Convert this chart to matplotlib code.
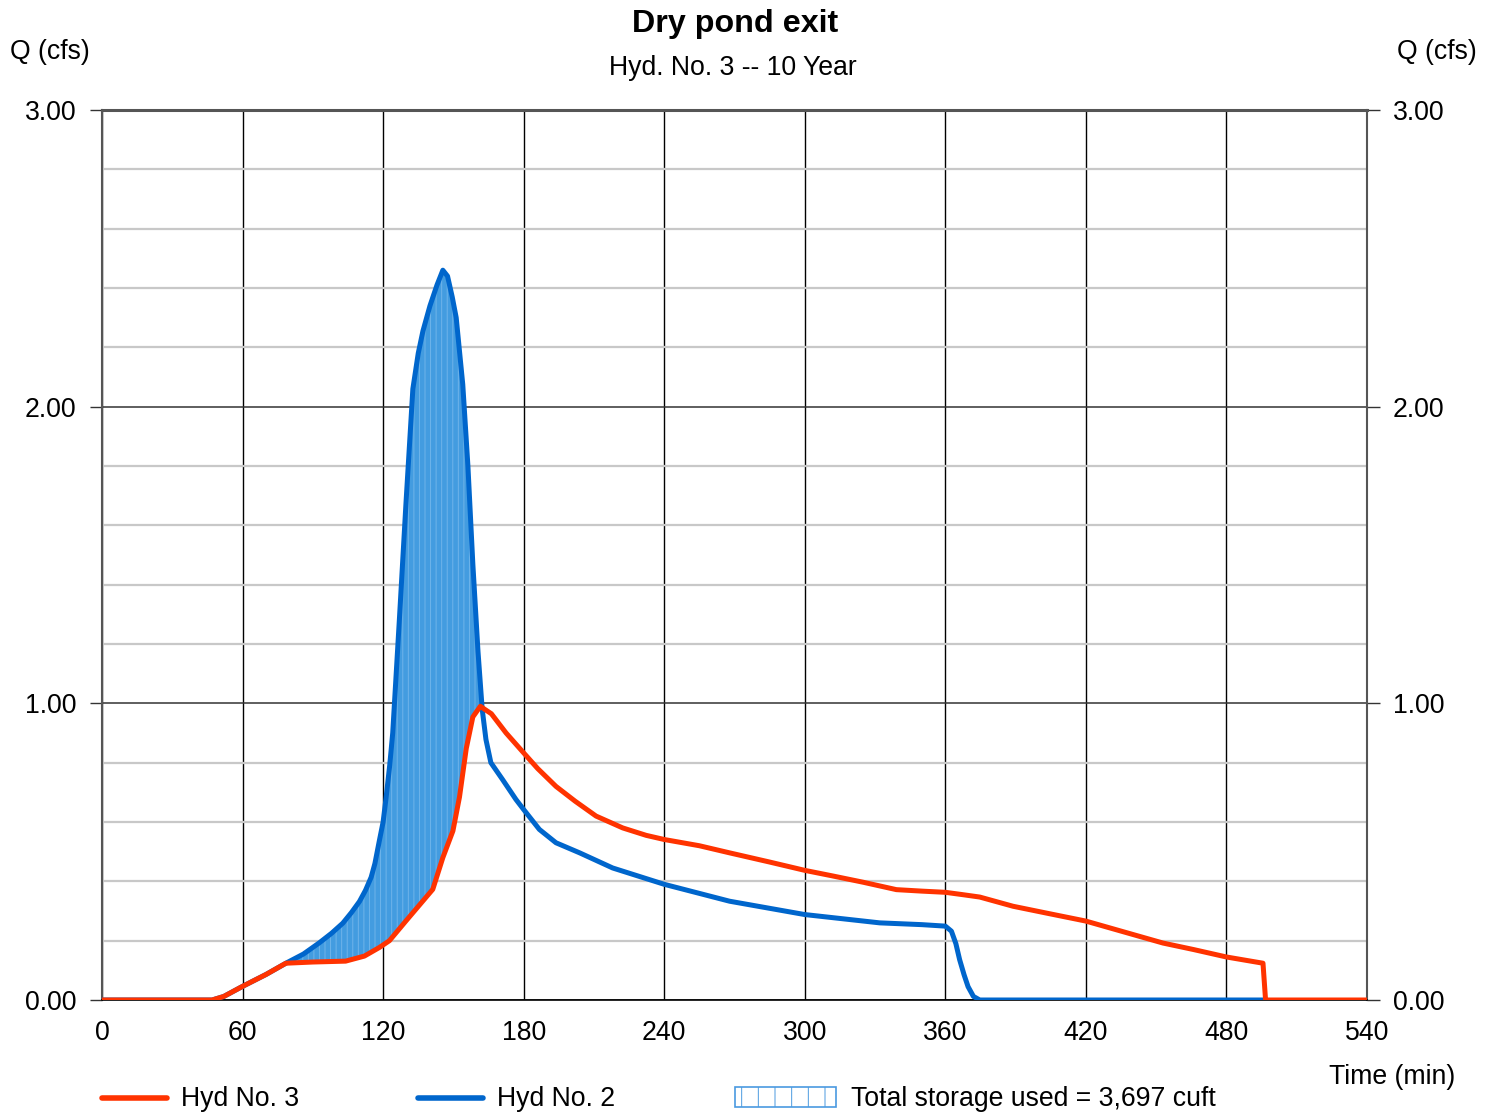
import numpy as np
import matplotlib
matplotlib.use("Agg")
import matplotlib.pyplot as plt
from matplotlib.lines import Line2D
from matplotlib.patches import Rectangle
from matplotlib.ticker import MultipleLocator

plt.rcParams['font.family'] = ['Liberation Sans', 'DejaVu Sans']
plt.rcParams['hatch.linewidth'] = 0.7

# ---- data (time in min, Q in cfs) ----
hyd3_t = [0, 47, 52, 60, 70, 78.5, 90, 104, 112, 118.4, 122.7, 129.8, 135.5, 141.2, 145.5,
          149.8, 152.6, 155.5, 158.3, 161.5, 163.9, 166.2, 172.5, 180, 186, 193.8, 202,
          210.9, 222.3, 232.3, 240, 255, 267.9, 285, 300, 312, 324.9, 339.1, 350, 360,
          367.5, 374.7, 388.9, 405, 420, 436, 452.9, 466, 480, 495.6, 496.7, 540]
hyd3_q = [0, 0, 0.012, 0.046, 0.086, 0.124, 0.128, 0.131, 0.148, 0.177, 0.20, 0.267, 0.32,
          0.373, 0.48, 0.57, 0.684, 0.848, 0.954, 0.99, 0.977, 0.965, 0.90, 0.833, 0.78,
          0.72, 0.67, 0.62, 0.58, 0.555, 0.541, 0.52, 0.496, 0.465, 0.437, 0.418, 0.397,
          0.372, 0.367, 0.363, 0.355, 0.347, 0.316, 0.29, 0.266, 0.23, 0.192, 0.17, 0.145,
          0.124, 0, 0]

hyd2_t = [0, 47, 52, 60, 70, 78.5, 86, 92.8, 98, 102.8, 106.5, 109.9, 112.5, 114.9, 116.5,
          118.4, 120, 121.3, 122.8, 124.1, 127, 129.8, 132.7, 135, 137, 140, 143, 145.5, 147.5,
          149.5, 151.2, 154, 156.2, 158.3, 160.5, 162.3, 163.9, 166, 171, 176.7, 180, 186.7,
          193.8, 203.9, 218, 240, 267.9, 300, 332, 350, 360, 362.6, 364.5, 366.1, 368,
          369.7, 372, 374.7, 497]
hyd2_q = [0, 0, 0.012, 0.046, 0.086, 0.124, 0.155, 0.193, 0.225, 0.259, 0.295, 0.332, 0.37,
          0.414, 0.46, 0.537, 0.60, 0.684, 0.79, 0.90, 1.29, 1.68, 2.06, 2.18, 2.255, 2.34,
          2.41, 2.46, 2.44, 2.37, 2.30, 2.075, 1.80, 1.47, 1.175, 0.98, 0.878, 0.80, 0.743,
          0.676, 0.642, 0.575, 0.53, 0.496, 0.445, 0.39, 0.333, 0.288, 0.26, 0.254, 0.249,
          0.232, 0.19, 0.136, 0.085, 0.045, 0.012, 0, 0]

x_ticks = [0, 60, 120, 180, 240, 300, 360, 420, 480, 540]
y_ticks = [0.0, 1.0, 2.0, 3.0]

title = "Dry pond exit"
subtitle = "Hyd. No. 3 -- 10 Year"
storage_label = "Total storage used = 3,697 cuft"

RED = '#ff3300'
BLUE = '#0066cc'
FILL = '#439ce0'
FS = 19.2

W, H = 1494, 1112
fig = plt.figure(figsize=(W / 100, H / 100), dpi=100)
ax = fig.add_axes([102 / W, 1 - 1000 / H, (1367 - 102) / W, (1000 - 110) / H])

ax.set_xlim(0, 540)
ax.set_ylim(0, 3)

# grid
ax.yaxis.set_minor_locator(MultipleLocator(0.2))
ax.set_yticks(y_ticks)
ax.set_xticks(x_ticks)
ax.grid(which='minor', axis='y', color='#c8c8c8', lw=1.6, zorder=0)
ax.grid(which='major', axis='y', color='#333333', lw=1.1, zorder=0.5)
ax.grid(which='major', axis='x', color='#000000', lw=1.0, zorder=0.5)
ax.set_axisbelow(True)

# fill between (storage)
tt = np.linspace(0, 540, 5401)
q2 = np.interp(tt, hyd2_t, hyd2_q)
q3 = np.interp(tt, hyd3_t, hyd3_q)
ax.fill_between(tt, q3, q2, where=q2 > q3, facecolor=FILL, edgecolor='#6fb4ea',
                hatch='|||', lw=0, zorder=1)

ax.plot(hyd2_t, hyd2_q, color=BLUE, lw=3.6, solid_capstyle='round',
        solid_joinstyle='round', zorder=3)
ax.plot(hyd3_t, hyd3_q, color=RED, lw=3.6, solid_capstyle='round',
        solid_joinstyle='round', zorder=4)

# spines
ax.spines['top'].set_color('#555555')
ax.spines['top'].set_linewidth(2.2)
ax.spines['left'].set_color('#555555')
ax.spines['left'].set_linewidth(1.5)
ax.spines['right'].set_color('#555555')
ax.spines['right'].set_linewidth(1.5)
ax.spines['bottom'].set_color('#000000')
ax.spines['bottom'].set_linewidth(1.2)

ax.yaxis.set_major_formatter(matplotlib.ticker.FormatStrFormatter('%.2f'))
ax.tick_params(axis='y', which='major', left=True, right=True, labelleft=True,
               labelright=True, length=9, width=1.0, color='#333333', pad=9.5,
               labelsize=FS, direction='out')
ax.tick_params(axis='y', which='minor', left=False, right=False)
ax.tick_params(axis='x', which='major', length=0, pad=14.5, labelsize=FS)

# texts
fig.text(735 / W, 1 - 24 / H, title, ha='center', va='center', fontsize=23.2,
         fontweight='bold')
fig.text(733 / W, 1 - 68 / H, subtitle, ha='center', va='center', fontsize=FS)
fig.text(10 / W, 1 - 52 / H, "Q (cfs)", ha='left', va='center', fontsize=FS)
fig.text(1477 / W, 1 - 52 / H, "Q (cfs)", ha='right', va='center', fontsize=FS)
fig.text(1455 / W, 1 - 1077 / H, "Time (min)", ha='right', va='center', fontsize=FS)

# legend (manual)
ly = 1 - 1098 / H
fig.add_artist(Line2D([102 / W, 167 / W], [ly, ly], color=RED, lw=4,
                      solid_capstyle='round', transform=fig.transFigure))
fig.text(181 / W, 1 - 1099 / H, "Hyd No. 3", ha='left', va='center', fontsize=FS)
fig.add_artist(Line2D([418 / W, 483 / W], [ly, ly], color=BLUE, lw=4,
                      solid_capstyle='round', transform=fig.transFigure))
fig.text(497 / W, 1 - 1099 / H, "Hyd No. 2", ha='left', va='center', fontsize=FS)
fig.add_artist(Rectangle((735 / W, 1 - 1107 / H), 101 / W, 20 / H, facecolor='white',
                         edgecolor='#4a9ae0', hatch='|', lw=1.2,
                         transform=fig.transFigure))
fig.text(851 / W, 1 - 1099 / H, storage_label, ha='left', va='center', fontsize=FS)

fig.savefig("out.png", dpi=100)
